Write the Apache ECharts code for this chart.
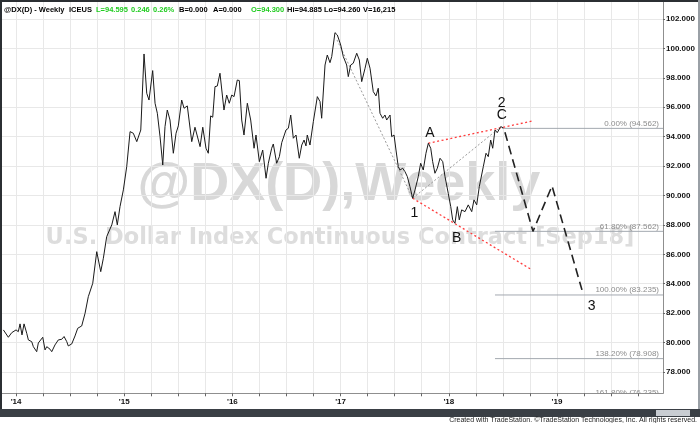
<!DOCTYPE html>
<html><head><meta charset="utf-8">
<script src="https://cdn.jsdelivr.net/npm/echarts@6.0.0/dist/echarts.min.js"></script>
<style>html,body{margin:0;padding:0;background:#fff}#c{width:700px;height:423px}</style>
</head><body><div id="c"></div>
<script>
// ---- data (decimal-year time, weekly close) ----
const weekTimes = [
2013.883,2013.929,2013.960,2013.975,2014.000,2014.021,2014.037,2014.055,2014.074,2014.099,
2014.114,2014.145,2014.160,2014.191,2014.206,2014.247,2014.268,2014.284,2014.314,2014.330,
2014.360,2014.391,2014.422,2014.444,2014.469,2014.483,2014.515,2014.545,2014.570,2014.607,
2014.638,2014.668,2014.709,2014.746,2014.783,2014.807,2014.838,2014.853,2014.885,2014.899,
2014.915,2014.936,2014.961,2014.992,2015.023,2015.054,2015.084,2015.116,2015.130,2015.153,
2015.183,2015.208,2015.229,2015.245,2015.263,2015.285,2015.306,2015.331,2015.356,2015.377,
2015.398,2015.423,2015.454,2015.479,2015.500,2015.531,2015.553,2015.583,2015.624,2015.654,
2015.670,2015.701,2015.726,2015.756,2015.777,2015.799,2015.818,2015.839,2015.860,2015.885,
2015.922,2015.947,2015.971,2015.994,2016.015,2016.045,2016.064,2016.086,2016.107,2016.138,
2016.169,2016.200,2016.218,2016.249,2016.280,2016.311,2016.332,2016.363,2016.378,2016.409,
2016.434,2016.456,2016.495,2016.517,2016.539,2016.563,2016.588,2016.618,2016.641,2016.662,
2016.680,2016.692,2016.717,2016.748,2016.785,2016.810,2016.825,2016.856,2016.877,2016.902,
2016.918,2016.948,2016.970,2017.001,2017.025,2017.056,2017.071,2017.093,2017.117,2017.149,
2017.173,2017.195,2017.226,2017.247,2017.272,2017.302,2017.327,2017.348,2017.364,2017.389,
2017.410,2017.426,2017.457,2017.472,2017.494,2017.512,2017.533,2017.549,2017.574,2017.595,
2017.617,2017.641,2017.666,2017.688,2017.718,2017.740,2017.764,2017.789,2017.811,2017.833,
2017.851,2017.872,2017.894,2017.919,2017.944,2017.965,2017.995,2018.018,2018.036,2018.057,
2018.079,2018.097,2018.119,2018.150,2018.180,2018.212,2018.233,2018.258,2018.282,2018.319,
2018.344,2018.365,2018.387,2018.406,2018.427,2018.448,2018.480,2018.504
];
const weekCloses = [
80.86,80.36,80.67,80.59,80.86,80.74,81.27,80.52,81.27,80.63,
80.18,80.06,79.72,79.38,79.97,80.36,79.50,79.72,79.55,79.38,
79.84,80.18,80.22,80.41,80.06,79.77,79.91,80.45,80.97,81.13,
81.99,83.12,84.03,86.18,84.82,85.73,87.20,87.09,88.00,88.00,
88.90,88.00,89.24,90.38,91.96,94.34,94.23,93.66,93.66,94.45,
99.62,96.95,96.49,96.61,98.49,96.27,95.59,94.00,92.07,94.68,
95.81,95.13,92.87,94.23,94.73,96.49,95.93,96.09,93.66,94.64,
94.73,93.32,94.64,93.21,92.87,95.41,95.32,97.40,97.44,98.31,
95.81,96.83,96.27,96.83,96.72,97.85,97.81,95.13,94.11,96.27,
95.13,93.21,94.11,92.30,93.09,91.17,92.19,93.21,93.50,92.19,
92.64,93.59,94.45,94.57,95.47,93.89,94.11,92.53,93.43,93.77,
93.37,94.11,93.43,95.02,96.72,96.38,95.25,98.87,99.55,99.03,
99.44,101.07,100.91,100.23,99.44,98.87,98.08,98.87,98.99,99.67,
99.21,97.74,98.65,99.33,98.65,97.06,96.77,97.29,95.59,95.25,
95.47,95.13,95.47,94.00,94.11,93.09,91.96,91.73,91.85,91.62,
91.28,90.60,89.81,90.38,91.28,92.19,91.73,92.87,93.55,93.21,
92.30,91.51,91.85,92.53,92.30,91.28,90.15,89.24,88.34,88.11,
89.24,88.34,89.02,88.90,89.36,88.90,89.70,89.36,90.60,91.96,
92.87,92.64,93.77,93.21,94.45,94.27,94.68,94.60
];
const lastPrice = 94.779;

// projected path (dashed)
const projTimes  = [2018.519, 2018.778, 2018.954, 2019.231];
const projValues = [94.30, 87.56, 90.65, 83.58];

// Fibonacci levels
const fibNames  = ['0.00% (94.562)', '61.80% (87.562)', '100.00% (83.235)', '138.20% (78.908)', '161.80% (76.235)'];
const fibLevels = [94.562, 87.562, 83.235, 78.908, 76.235];
const fibStarts = [2018.492, 2018.427, 2018.427, 2018.427, 2018.427];

// trend lines
const redUpperTimes  = [2017.811, 2018.778];
const redUpperValues = [93.55, 95.07];
const redLowerTimes  = [2017.666, 2018.769];
const redLowerValues = [89.81, 84.94];
const greyDownTimes  = [2016.967, 2017.666];
const greyDownValues = [100.57, 89.81];
const greyUpTimes    = [2017.666, 2018.470];
const greyUpValues   = [89.81, 94.60];

// wave labels
const waveNames  = ['1', 'A', 'B', '2', 'C', '3'];
const waveTimes  = [2017.681, 2017.826, 2018.073, 2018.489, 2018.489, 2019.321];
const waveValues = [88.83, 94.23, 87.09, 96.27, 95.47, 82.49];

// axis ticks
const yearTicks = [2014, 2015, 2016, 2017, 2018, 2019];
const quarterTicks = [2014,2014.25,2014.5,2014.75,2015,2015.25,2015.5,2015.75,2016,2016.25,2016.5,2016.75,
  2017,2017.25,2017.5,2017.75,2018,2018.25,2018.5,2018.75,2019,2019.25,2019.5,2019.75];
const priceTicks = [78, 80, 82, 84, 86, 88, 90, 92, 94, 96, 98, 100, 102];

// ---- chart ----
const X_MIN = 2013.861, X_MAX = 2019.980, Y_MIN = 76.55, Y_MAX = 103.29;
const zip = (a, b) => a.map((t, i) => [t, b[i]]);
const FONT = '"Liberation Sans", Arial, sans-serif';

const chart = echarts.init(document.getElementById('c'), null, {renderer: 'canvas'});

const series = [];
// grid lines (quarterly verticals, 2-point horizontals)
series.push({
  type: 'lines', coordinateSystem: 'cartesian2d', silent: true, z: 0, animation: false,
  lineStyle: {color: '#e8e8e8', width: 1, opacity: 1},
  data: quarterTicks.map(q => ({coords: [[q, Y_MIN], [q, Y_MAX]]}))
    .concat(priceTicks.map(p => ({coords: [[X_MIN, p], [X_MAX, p]]})))
});
series.push({
  type: 'line', data: zip(weekTimes, weekCloses), showSymbol: false, symbol: 'none',
  lineStyle: {color: '#1a1a1a', width: 1}, z: 6, silent: true,
  markLine: {
    silent: true, symbol: 'none', animation: false,
    lineStyle: {opacity: 0},
    label: {show: true, position: 'end', distance: 1, formatter: () => lastPrice.toFixed(3),
      backgroundColor: '#000', color: '#fff', fontWeight: 'bold', fontSize: 8, fontFamily: FONT,
      padding: [2, 2, 1, 3]},
    data: [{yAxis: lastPrice}]
  }
});
series.push({
  type: 'line', data: zip(projTimes, projValues), symbol: 'none', silent: true, z: 6,
  lineStyle: {color: '#222', width: 1.6, type: [9, 5]}
});
[[redUpperTimes, redUpperValues], [redLowerTimes, redLowerValues]].forEach(([t, v]) => series.push({
  type: 'line', data: zip(t, v), symbol: 'none', silent: true, z: 5,
  lineStyle: {color: '#ff3c3c', width: 1.3, type: [2, 2.5]}
}));
[[greyDownTimes, greyDownValues], [greyUpTimes, greyUpValues]].forEach(([t, v]) => series.push({
  type: 'line', data: zip(t, v), symbol: 'none', silent: true, z: 4,
  lineStyle: {color: '#9a9a9a', width: 1, type: [2, 2]}
}));
fibLevels.forEach((lv, i) => series.push({
  type: 'line', data: [[fibStarts[i], lv], [X_MAX, lv]], symbol: 'none', silent: true, z: 3,
  lineStyle: {color: '#a3a9b0', width: 1}
}));
series.push({
  type: 'custom', clip: true, silent: true, z: 7,
  data: fibLevels.map((lv, i) => [X_MAX, lv, i]),
  encode: {x: 0, y: 1},
  renderItem: (params, api) => {
    const p = api.coord([api.value(0), api.value(1)]);
    return {type: 'text', x: p[0] - 4, y: p[1] - 1,
      style: {text: fibNames[api.value(2)], fill: '#8c8c8c', font: '8px ' + FONT,
        align: 'right', verticalAlign: 'bottom', textAlign: 'right', textVerticalAlign: 'bottom'}};
  }
});
series.push({
  type: 'custom', silent: true, z: 8,
  data: waveTimes.map((t, i) => [t, waveValues[i], i]),
  encode: {x: 0, y: 1},
  renderItem: (params, api) => {
    const p = api.coord([api.value(0), api.value(1)]);
    return {type: 'text', x: p[0], y: p[1],
      style: {text: waveNames[api.value(2)], fill: '#111', font: '14px ' + FONT,
        align: 'center', verticalAlign: 'middle', textAlign: 'center', textVerticalAlign: 'middle'}};
  }
});

const headerParts = [
  ['@DX(D) - Weekly', 4, '#000'], ['ICEUS', 69, '#000'], ['L=94.595', 96, '#22cc22'],
  ['0.246', 131, '#22cc22'], ['0.26%', 153, '#22cc22'], ['B=0.000', 179, '#000'],
  ['A=0.000', 213, '#000'], ['O=94.300', 251, '#22cc22'], ['Hi=94.885', 287, '#000'],
  ['Lo=94.260', 324, '#000'], ['V=16,215', 363, '#000']
];

const graphic = [
  {type: 'text', x: 339, y: 185, z: 0, silent: true,
    style: {text: '@DX(D),Weekly', fill: '#d8d8d8', font: 'bold 54px "Liberation Sans", sans-serif',
      textAlign: 'center', textVerticalAlign: 'middle', align: 'center', verticalAlign: 'middle'}},
  {type: 'text', x: 340, y: 238, z: 0, silent: true,
    style: {text: 'U.S. Dollar Index Continuous Contract [Sep18]', fill: '#dddddd', font: 'bold 22.5px "DejaVu Sans", sans-serif',
      textAlign: 'center', textVerticalAlign: 'middle', align: 'center', verticalAlign: 'middle'}},
  {type: 'rect', shape: {x: 0, y: 0, width: 700, height: 2}, style: {fill: '#2b2f33'}, z: 20, silent: true},
  {type: 'rect', shape: {x: 0, y: 0, width: 2, height: 410}, style: {fill: '#2b2f33'}, z: 20, silent: true},
  {type: 'rect', shape: {x: 698, y: 0, width: 2, height: 410}, style: {fill: '#9aa0a6'}, z: 20, silent: true},
  {type: 'rect', shape: {x: 0, y: 409, width: 700, height: 8}, style: {fill: '#3a3f45'}, z: 20, silent: true},
  {type: 'rect', shape: {x: 656, y: 410, width: 34, height: 6}, style: {fill: '#c9cdd2'}, z: 21, silent: true},
  {type: 'text', x: 697, y: 420, z: 20, silent: true,
    style: {text: 'Created with TradeStation. \u00a9TradeStation Technologies, Inc. All rights reserved.',
      fill: '#222', font: '7px ' + FONT, textAlign: 'right', textVerticalAlign: 'middle', align: 'right', verticalAlign: 'middle'}}
].concat(headerParts.map(([txt, x, col]) => ({
  type: 'text', x: x, y: 10, z: 20, silent: true,
  style: {text: txt, fill: col, font: 'bold 7.5px ' + FONT, textVerticalAlign: 'middle', verticalAlign: 'middle'}
})));

chart.setOption({
  animation: false,
  backgroundColor: '#fff',
  grid: {left: 1, right: 37, top: 0, bottom: 29.7, containLabel: false},
  xAxis: {
    type: 'value', min: X_MIN, max: X_MAX,
    axisLine: {show: true, lineStyle: {color: '#8f8f8f', width: 1}},
    axisTick: {show: true, length: 3, customValues: quarterTicks, lineStyle: {color: '#666'}},
    axisLabel: {show: true, customValues: yearTicks, margin: 4, color: '#111', fontSize: 8, fontWeight: 'bold',
      fontFamily: FONT, formatter: v => "'" + String(Math.round(v)).slice(2)},
    splitLine: {show: false}
  },
  yAxis: {
    type: 'value', position: 'right', min: Y_MIN, max: Y_MAX, scale: true,
    axisLine: {show: true, lineStyle: {color: '#8f8f8f', width: 1}},
    axisTick: {show: true, length: 2, customValues: priceTicks, lineStyle: {color: '#666'}},
    axisLabel: {show: true, customValues: priceTicks, margin: 3, color: '#111', fontSize: 8, fontWeight: 'bold',
      fontFamily: FONT, formatter: v => v.toFixed(3)},
    splitLine: {show: false}
  },
  graphic: graphic,
  series: series
});
</script></body></html>
